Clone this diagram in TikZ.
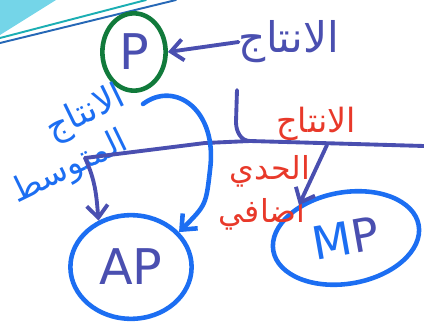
\documentclass[tikz,border=0pt]{standalone}
\usepackage{fontspec}
\setmainfont{DejaVu Sans}
\newfontfamily\arabicfont[Script=Arabic]{DejaVu Sans}
\TeXXeTstate=1
\usetikzlibrary{arrows.meta,shapes.geometric}

\definecolor{ink}{HTML}{4A4FB0}
\definecolor{pen}{HTML}{1C6EF2}
\definecolor{redpen}{HTML}{E8392A}
\definecolor{greenpen}{HTML}{117A3B}
\definecolor{skyfill}{HTML}{74D5E8}
\definecolor{tealline}{HTML}{1BAEB3}
\definecolor{blueline}{HTML}{2668B6}

\tikzset{
  arr/.style={-{Straight Barb[length=7pt,width=12pt]}},
  ar/.style={font=\arabicfont\fontsize{#1}{#1}\selectfont, inner sep=0pt},
}

\begin{document}
\begin{tikzpicture}[x=0.02cm,y=-0.02cm,line cap=round,line join=round]

      \useasboundingbox (0,0) rectangle (424,328);
      % corner of the slide
      \fill[skyfill] (0,0) -- (56,0) -- (0,35) -- cycle;
      \draw[tealline, line width=1.1pt] (0,38) -- (146,0);
      \draw[blueline, line width=1.1pt] (0,43) -- (176,0);

      \begin{scope}[every node/.style={ellipse, draw, inner sep=0pt, text=ink, line width=2.6pt}]
        \node[draw=greenpen, minimum width=36pt, minimum height=44pt,
              font=\fontsize{28}{28}\selectfont] (p) at (134,52) {P};
        \node[draw=pen, minimum width=69pt, minimum height=59pt,
              font=\fontsize{28}{28}\selectfont] (ap) at (131,267) {AP};
        \node[draw=pen, minimum width=84pt, minimum height=52pt, rotate=10,
              font=\fontsize{26}{26}\selectfont] (mp) at (346,238) {\textcolor{pen}{M}P};
      \end{scope}

      \begin{scope}[every node/.style={ar=20}]
        \node[ink, ar=24] (t0) at (289,42) {\beginR الانتاج\endR};
        \node[pen, rotate=26] (t1) at (86,114) {\beginR الانتاج\endR};
        \node[pen, rotate=26, ar=19] (t2) at (70,168) {\beginR المتوسط\endR};
        \node[redpen, ar=19] (t3) at (316,124) {\beginR الانتاج\endR};
        \node[redpen, ar=18] (t4) at (270,171) {\beginR الحدي\endR};
        \node[redpen, ar=18] (t5) at (262,214) {\beginR اضافي\endR};
      \end{scope}

      \coordinate (top) at (237,90);
      \coordinate (j) at (250,141);
      \coordinate (left) at (85,158);
      \coordinate (right) at (424,146);
      \coordinate (fork) at (327,145);
      \coordinate (c0) at (143,104);

      \begin{scope}[line width=2.2pt]
        \draw[ink, arr] (t0.west) -- (p.east);
        \draw[ink] (top) -- (236,122) to[out=-90,in=180] (j);
        \draw[ink] (left) -- (205,143) -- (j) -- (right);
        \draw[ink, arr] (left) to[out=-65,in=95] (ap.125);
        \draw[ink, arr] (fork) -- (mp.135);
        \draw[pen, line width=2.6pt, arr] (c0) .. controls (175,80) and (218,110) .. (210,170)
          .. controls (206,205) .. (ap.36);
      \end{scope}

    \end{tikzpicture}
\end{document}
